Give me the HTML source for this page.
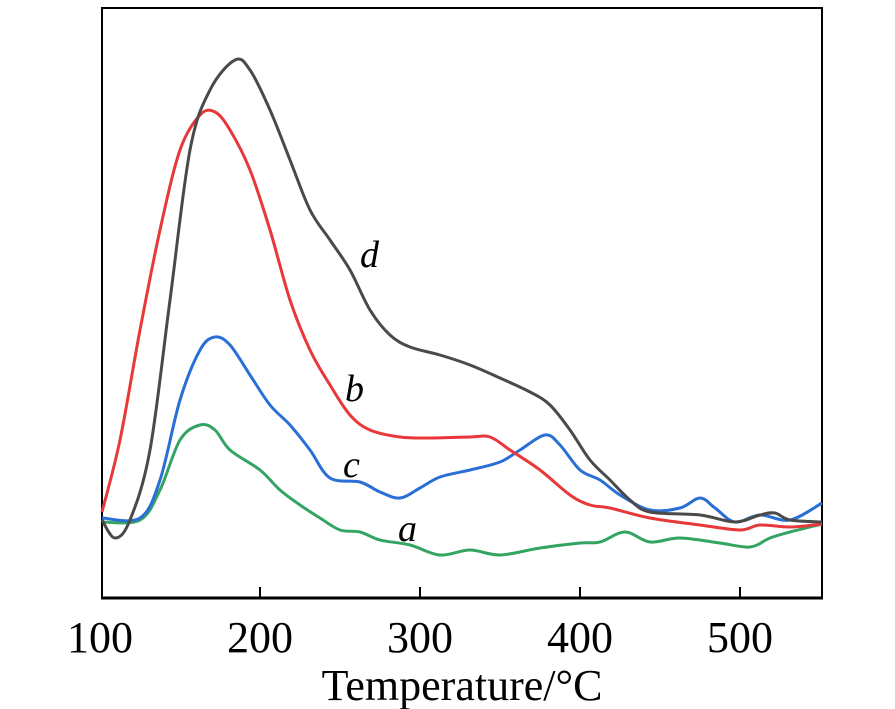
<!DOCTYPE html>
<html><head><meta charset="utf-8"><style>
html,body{margin:0;padding:0;background:#fff;}
svg{display:block;}
text{font-family:"Liberation Serif",serif;fill:#000;}
</style></head><body>
<svg id="s" width="895" height="709" viewBox="0 0 895 709">
<rect x="102" y="8" width="720" height="590" fill="none" stroke="#000" stroke-width="2"/>
<line x1="101" y1="598" x2="823" y2="598" stroke="#000" stroke-width="3"/>
<g stroke="#000" stroke-width="2">
<line x1="260" y1="598" x2="260" y2="587"/><line x1="420" y1="598" x2="420" y2="587"/>
<line x1="580" y1="598" x2="580" y2="587"/><line x1="740" y1="598" x2="740" y2="587"/>
</g>
<g font-size="44" text-anchor="middle">
<text x="100" y="652">100</text><text x="260" y="652">200</text><text x="420" y="652">300</text>
<text x="580" y="652">400</text><text x="740" y="652">500</text>
</g>
<text x="462" y="700" font-size="44" text-anchor="middle">Temperature/°C</text>
<g font-size="38" font-style="italic">
<text x="360" y="267">d</text><text x="345" y="401">b</text><text x="343" y="477">c</text><text x="398" y="541">a</text>
</g>
<g id="curves" fill="none" stroke-width="3" stroke-linejoin="round"></g>
</svg>
<script>
var data={
"#4a4a4a":[[102,520],[115,538],[130,520],[150,450],[170,300],[190,150],[210,90],[235,60],[250,70],[270,110],[290,160],[310,210],[330,240],[350,270],[370,310],[390,335],[410,347],[440,355],[470,365],[500,378],[530,392],[550,405],[570,430],[590,460],[610,480],[630,500],[650,512],[700,515],[735,522],[760,515],[775,513],[790,520],[822,522]],
"#e8383a":[[102,512],[120,440],[140,330],[160,230],[180,150],[200,115],[215,112],[230,130],[250,170],[270,230],[290,300],[310,350],[330,385],[350,415],[370,430],[400,437],[430,438],[470,437],[490,437],[510,450],[540,470],[570,495],[590,505],[610,508],[650,518],[700,525],[740,530],[760,525],[790,527],[822,524]],
"#2a6fd6":[[102,518],[140,518],[160,480],[180,400],[200,350],[215,337],[230,345],[250,375],[270,405],[290,425],[310,450],[330,478],[360,482],[380,492],[400,498],[420,488],[440,477],[470,470],[500,462],[520,450],[545,435],[560,445],[580,470],[600,480],[620,495],[650,510],[680,508],[700,498],[715,508],[735,522],[760,515],[790,520],[822,503]],
"#34a463":[[102,522],[140,520],[160,490],[180,440],[200,425],[215,430],[230,450],[260,470],[280,490],[300,505],[320,518],[340,530],[360,532],[380,540],[410,545],[440,555],[470,550],[500,555],[540,548],[580,543],[600,542],[625,532],[650,542],[680,538],[720,543],[750,547],[770,538],[790,532],[822,524]]
};
var g=document.getElementById("curves"),ns="http://www.w3.org/2000/svg";
["#34a463","#2a6fd6","#e8383a","#4a4a4a"].forEach(function(c){
var p=data[c],d="M"+p[0][0]+","+p[0][1];
for(var i=0;i<p.length-1;i++){var p0=p[i-1]||p[i],p1=p[i],p2=p[i+1],p3=p[i+2]||p2;
d+=" C"+(p1[0]+(p2[0]-p0[0])/6)+","+(p1[1]+(p2[1]-p0[1])/6)+" "+(p2[0]-(p3[0]-p1[0])/6)+","+(p2[1]-(p3[1]-p1[1])/6)+" "+p2[0]+","+p2[1];}
var e=document.createElementNS(ns,"path");e.setAttribute("d",d);e.setAttribute("stroke",c);g.appendChild(e);});
</script>
</body></html>
